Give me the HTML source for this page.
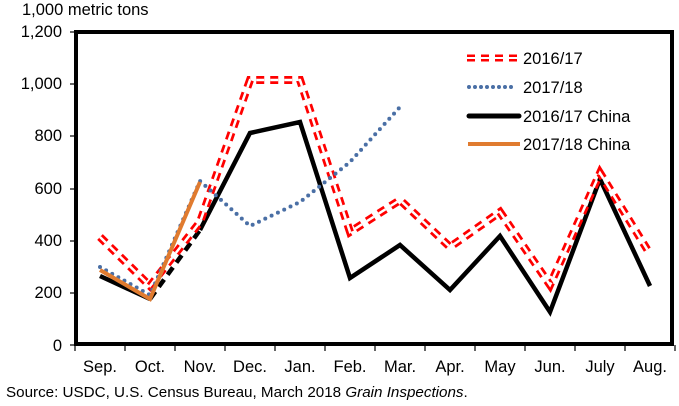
<!DOCTYPE html>
<html><head><meta charset="utf-8"><style>
html,body{margin:0;padding:0;background:#fff;}
svg{display:block;font-family:"Liberation Sans",Arial,sans-serif;}
</style></head><body>
<svg width="679" height="406" viewBox="0 0 679 406" xmlns="http://www.w3.org/2000/svg">
<rect width="679" height="406" fill="#fff"/>
<text x="22" y="15" font-size="16.5" fill="#000">1,000 metric tons</text>
<g font-size="16.5" fill="#000" text-anchor="end">
<text x="62" y="37">1,200</text>
<text x="62" y="89">1,000</text>
<text x="62" y="141">800</text>
<text x="62" y="194">600</text>
<text x="62" y="246">400</text>
<text x="62" y="298">200</text>
<text x="62" y="351">0</text>
</g>
<g stroke="#000" stroke-width="1.2">
<line x1="70" y1="32" x2="75" y2="32"/><line x1="70" y1="84" x2="75" y2="84"/>
<line x1="70" y1="136" x2="75" y2="136"/><line x1="70" y1="189" x2="75" y2="189"/>
<line x1="70" y1="241" x2="75" y2="241"/><line x1="70" y1="293" x2="75" y2="293"/>
<line x1="70" y1="345" x2="75" y2="345"/>
<line x1="75" y1="345" x2="75" y2="351"/><line x1="125" y1="345" x2="125" y2="351"/>
<line x1="175" y1="345" x2="175" y2="351"/><line x1="225" y1="345" x2="225" y2="351"/>
<line x1="275" y1="345" x2="275" y2="351"/><line x1="325" y1="345" x2="325" y2="351"/>
<line x1="375" y1="345" x2="375" y2="351"/><line x1="425" y1="345" x2="425" y2="351"/>
<line x1="475" y1="345" x2="475" y2="351"/><line x1="525" y1="345" x2="525" y2="351"/>
<line x1="575" y1="345" x2="575" y2="351"/><line x1="625" y1="345" x2="625" y2="351"/>
<line x1="675" y1="345" x2="675" y2="351"/>
</g>
<rect x="76" y="32" width="596" height="312" fill="none" stroke="#000" stroke-width="4"/>
<g font-size="16.5" fill="#000" text-anchor="middle">
<text x="100" y="372">Sep.</text><text x="150" y="372">Oct.</text><text x="200" y="372">Nov.</text>
<text x="250" y="372">Dec.</text><text x="300" y="372">Jan.</text><text x="350" y="372">Feb.</text>
<text x="400" y="372">Mar.</text><text x="450" y="372">Apr.</text><text x="500" y="372">May</text>
<text x="550" y="372">Jun.</text><text x="600" y="372">July</text><text x="650" y="372">Aug.</text>
</g>
<text x="6" y="397" font-size="15.2" fill="#000">Source: USDC, U.S. Census Bureau, March 2018 <tspan font-style="italic">Grain Inspections</tspan>.</text>

<polyline points="100,276 150,299" fill="none" stroke="#000" stroke-width="4.5"/>
<polyline points="150,299 200,230" fill="none" stroke="#000" stroke-width="4.5" stroke-dasharray="9 6"/>
<polyline points="200,230 250,133 300,122 350,278 400,245 450,290 500,236 550,312 600,179 650,286" fill="none" stroke="#000" stroke-width="4.5"/>
<g fill="none" stroke-dasharray="8 6">
<polyline points="100,237 150,286 200,222 250,80 300,80 350,232 400,200 450,247 500,212 550,285 600,173 650,254" stroke="#f00" stroke-width="8"/>
<polyline points="100,237 150,286 200,222 250,80 300,80 350,232 400,200 450,247 500,212 550,285 600,173 650,254" stroke="#fff" stroke-width="2.5"/>
</g>
<polyline points="100,267 150,295 200,181 250,226 300,202 350,162 400,107" fill="none" stroke="#4a6fa5" stroke-width="4" stroke-dasharray="0 7" stroke-linecap="round"/>
<polyline points="100,270 150,299 200,182" fill="none" stroke="#e07b2f" stroke-width="4"/>

<line x1="467" y1="58" x2="517" y2="58" stroke="#f00" stroke-width="7" stroke-dasharray="8 6"/>
<line x1="467" y1="58" x2="517" y2="58" stroke="#fff" stroke-width="2"/>
<line x1="469" y1="87" x2="517" y2="87" stroke="#4a6fa5" stroke-width="4" stroke-dasharray="0 6" stroke-linecap="round"/>
<line x1="469" y1="116" x2="519" y2="116" stroke="#000" stroke-width="5" stroke-linecap="round"/>
<line x1="468" y1="144" x2="520" y2="144" stroke="#e07b2f" stroke-width="4"/>
<g font-size="16.5" fill="#000">
<text x="523" y="64">2016/17</text>
<text x="523" y="93">2017/18</text>
<text x="523" y="122">2016/17 China</text>
<text x="523" y="150">2017/18 China</text>
</g>
</svg>
</body></html>
